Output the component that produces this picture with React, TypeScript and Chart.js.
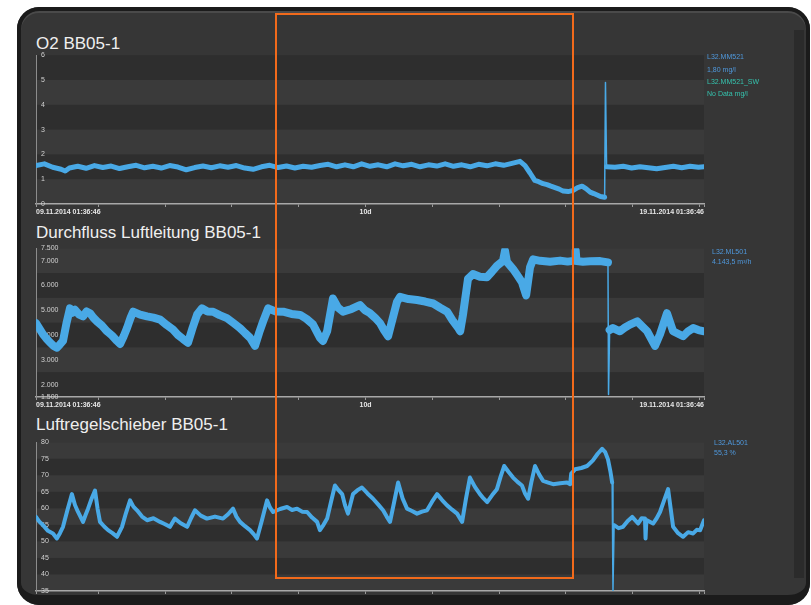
import React, { useEffect, useRef } from 'react';
import { Chart, registerables } from 'chart.js';

Chart.register(...registerables);

const FONT = '"Liberation Sans", Arial, Helvetica, sans-serif';
const LINE_COLOR = '#49a9e6';

// x axis: hours since 09.11.2014 01:36:46 (10 days)
const xTickHours = [0, 22.4, 46.4, 70.4, 94.4, 118.4, 142.4, 166.4, 190.4, 214.4, 238.4, 240];
const xStartLabel = '09.11.2014 01:36:46';
const xEndLabel = '19.11.2014 01:36:46';
const xSpanLabel = '10d';
const xSpanTick = 118.4;

// y ticks
const o2Ticks = [0, 1, 2, 3, 4, 5, 6];
const flowTicks = [1500, 2000, 3000, 4000, 5000, 6000, 7000, 7500];
const valveTicks = [35, 40, 45, 50, 55, 60, 65, 70, 75, 80];

// lighter background stripes (value ranges)
const o2Bands: [number, number][] = [[0, 1], [2, 3], [4, 5]];
const flowBands: [number, number][] = [[2500, 3500], [4500, 5500], [6500, 7500]];
const valveBands: [number, number][] = [[35, 40], [45, 50], [55, 60], [65, 70], [75, 80]];

// titles and live values
const titles = ['O2 BB05-1', 'Durchfluss Luftleitung BB05-1', 'Luftregelschieber BB05-1'];
const o2Legend = ['L32.MM521', '1,80 mg/l', 'L32.MM521_SW', 'No Data mg/l'];
const flowLegend = ['L32.ML501', '4.143,5 m³/h'];
const valveLegend = ['L32.AL501', '55,3 %'];

// [hour, mg/l]
const o2Readings: [number, number][] = [
  [0, 1.55], [3, 1.62], [6, 1.48], [9, 1.4], [10.5, 1.33], [12, 1.45], [15, 1.52], [18, 1.44], [21, 1.55],
  [24, 1.47], [27, 1.53], [30, 1.43], [33, 1.5], [36, 1.56], [39, 1.46], [42, 1.52], [45, 1.45], [48, 1.55],
  [51, 1.49], [54, 1.38], [57, 1.47], [60, 1.53], [63, 1.46], [66, 1.54], [69, 1.48], [72, 1.55], [75, 1.45],
  [78, 1.4], [81, 1.5], [84, 1.56], [87, 1.47], [90, 1.53], [93, 1.45], [96, 1.52], [99, 1.48], [102, 1.55],
  [105, 1.6], [108, 1.5], [111, 1.58], [114, 1.5], [117, 1.62], [120, 1.52], [123, 1.58], [126, 1.5],
  [129, 1.62], [132, 1.54], [135, 1.6], [138, 1.5], [141, 1.58], [144, 1.53], [147, 1.62], [150, 1.52],
  [153, 1.58], [156, 1.5], [159, 1.6], [162, 1.54], [165, 1.62], [168, 1.56], [171, 1.64], [173.9, 1.72],
  [175.7, 1.55], [177.5, 1.25], [179.2, 0.95], [180.6, 0.9], [182.2, 0.82], [183.6, 0.78], [185, 0.72],
  [186.5, 0.66], [188, 0.6], [189.4, 0.52], [191.2, 0.5], [193, 0.55], [194.6, 0.66], [196.2, 0.72],
  [197.6, 0.62], [199.1, 0.48], [200.4, 0.42], [201.6, 0.36], [202.8, 0.3], [204.3, 0.27], [204.6, 4.9],
  [205, 1.5], [208, 1.48], [211, 1.52], [214, 1.45], [217, 1.5], [220, 1.46], [223, 1.42], [226, 1.47],
  [229, 1.52], [232, 1.46], [235, 1.52], [238, 1.48], [240, 1.5],
];

// [hour, m³/h]
const flowReadings: [number, number][] = [
  [0, 4480], [1.3, 4250], [2.5, 4030], [3.8, 3850], [5, 3700], [6.3, 3560], [7.5, 3490], [8.6, 3620],
  [9.7, 3760], [11, 4500], [12.2, 5075], [13.1, 4900], [14, 5020], [15.5, 4820], [16.9, 4750], [18.2, 4950],
  [19.4, 4880], [20.6, 4700], [21.9, 4550], [23.7, 4380], [25.5, 4150], [27.3, 3980], [29.1, 3760],
  [30.2, 3640], [31.5, 3950], [32.7, 4280], [34, 4700], [34.9, 4940], [37.4, 4820], [39.9, 4750],
  [42.2, 4700], [44.6, 4620], [47, 4400], [49.2, 4220], [51, 4000], [52.8, 3840], [54.6, 3690],
  [56.3, 4300], [57.9, 4825], [59.6, 5075], [61.6, 4950], [63.6, 4940], [66, 4800], [68.6, 4680],
  [71, 4480], [73.3, 4280], [75.1, 4080], [76.9, 3890], [78.7, 3560], [80.2, 4100], [81.6, 4550],
  [83.4, 5075], [86, 4950], [88.8, 4940], [91.8, 4850], [94.9, 4810], [97.2, 4650], [99.5, 4430],
  [102, 3890], [103.1, 3760], [104.6, 4150], [106.7, 5470], [108.5, 5100], [110.3, 4940], [113.4, 5050],
  [116.4, 5210], [118.2, 5000], [120, 4880], [121.8, 4700], [123.6, 4480], [125, 4200], [126.5, 3950],
  [128, 4600], [129.7, 5340], [130.8, 5540], [133.8, 5450], [136.9, 5410], [139.8, 5350], [142.7, 5270],
  [145.2, 5100], [147.7, 4940], [149.6, 4600], [151.6, 4300], [152.4, 4150], [153.4, 4810], [155.2, 6260],
  [157, 6460], [159.5, 6350], [162, 6330], [163.8, 6550], [165.6, 6790], [167.8, 6990], [168.5, 7400],
  [169.2, 6950], [171.4, 6660], [173, 6400], [174.6, 6130], [176.1, 5600], [177.5, 6730], [178.6, 7050],
  [181.1, 6990], [184.7, 6950], [188.3, 7000], [191, 6960], [193.7, 7000], [193.9, 7400], [194.2, 6980],
  [196.5, 6950], [199.1, 6970], [202.7, 6980], [205.5, 6930], [205.7, 1600], [206.1, 4200], [207.3, 4280],
  [209.8, 4150], [211.6, 4300], [213.4, 4420], [216, 4550], [217.8, 4350], [219.6, 4150], [221, 3850],
  [222.4, 3560], [224.2, 4030], [226.7, 4880], [228.9, 4150], [230.7, 4050], [232.5, 3950], [234.3, 4150],
  [236.1, 4280], [238, 4200], [240, 4150],
];

// [hour, %]
const valveReadings: [number, number][] = [
  [0, 57.4], [1.2, 56], [2.5, 54.9], [4.3, 53.2], [6.1, 52.4], [7.5, 50.9], [8.6, 52.5], [9.7, 54.4],
  [11.3, 59.5], [12.9, 64.3], [14, 61], [15.1, 58.9], [16.9, 55.9], [17.8, 58], [18.7, 59.9], [20, 63],
  [21.2, 65.4], [22.1, 60], [23, 55.9], [24.5, 54.5], [25.9, 53.4], [27.5, 52.5], [29.1, 51.4], [30.9, 54.4],
  [32.3, 58.5], [33.8, 62.4], [35, 60.5], [36.3, 59.4], [38.1, 57.5], [39.9, 56.4], [42.2, 57], [44.6, 55.9],
  [46.4, 55.2], [48.1, 54.4], [49.9, 56.9], [52, 55.5], [54.3, 54.4], [55.7, 57], [57.1, 59.4], [59.2, 57.8],
  [61.4, 56.9], [64.3, 57.5], [67.2, 56.9], [69, 58.2], [70.8, 59.9], [72, 57.5], [73.3, 55.9], [75.1, 54.6],
  [76.9, 53.4], [78.2, 52.2], [79.4, 50.9], [81.2, 56.5], [83, 62.4], [84.1, 60.2], [85.2, 58.9], [87.7, 59.8],
  [90.2, 60.4], [92, 59.5], [93.8, 59.9], [95.6, 59], [97.4, 58.9], [99.2, 57.2], [101, 55.9], [102, 53.4],
  [103.3, 55], [104.6, 56.9], [106, 62], [107.4, 66.9], [108.7, 65.5], [110, 64.3], [111, 61], [112.1, 58.4],
  [113.9, 64.3], [115.5, 65.5], [117.1, 66.3], [119.1, 64.5], [121.1, 62.9], [122.9, 61.2], [124.7, 59.4],
  [126, 57.5], [127.2, 55.9], [128.7, 62], [130.1, 67.8], [131.7, 63], [133.3, 59.9], [135.1, 59.2],
  [136.9, 58.4], [138.7, 59], [140.5, 59.4], [142.3, 62], [144.1, 64.3], [145.9, 62.5], [147.7, 60.9],
  [149.5, 59.6], [151.3, 58.4], [153.1, 55.9], [154.5, 63], [155.9, 69.3], [157.7, 66.5], [159.5, 64.3],
  [160.8, 63], [162.1, 61.9], [163.9, 64], [165.6, 65.8], [166.9, 69.5], [168.2, 72.8], [169.8, 71],
  [171.4, 69.3], [173, 68], [174.6, 66.9], [175.7, 64.5], [176.8, 62.9], [178, 68], [179.3, 72.8],
  [180.8, 70.2], [182.2, 68.3], [184, 67.8], [185.8, 67.3], [188.3, 67.6], [190.8, 67.8], [191.9, 67.3],
  [192.3, 70.5], [193.7, 71.8], [195.9, 72.2], [198, 72.8], [200.1, 74.5], [201.8, 76.5], [203.4, 78],
  [204.5, 77], [205.5, 74.8], [206.4, 71], [207, 67.8], [207.3, 35], [207.7, 54.9], [209.3, 54],
  [210.9, 54.4], [212.6, 56.2], [214.2, 57.4], [216.3, 55.4], [217.6, 57], [218.8, 56.9], [219, 50.9],
  [219.3, 56.5], [221.7, 55.4], [223, 57], [224.2, 58.9], [225.7, 62.5], [227.1, 65.8], [228.9, 54.4],
  [230.7, 52.5], [232.5, 51.4], [234.3, 52.8], [236.1, 52.4], [237.4, 53.5], [238.6, 53.4], [240, 56.4],
];

const thousands = (v: number) => String(v).replace(/\B(?=(\d{3})+(?!\d))/g, '.');

const bandPlugin = {
  id: 'bands',
  beforeDraw(chart: any, _args: any, opts: any) {
    const { ctx, chartArea: a, scales } = chart;
    const y = scales.y;
    ctx.save();
    ctx.fillStyle = opts.base;
    ctx.fillRect(a.left, a.top, a.right - a.left, a.bottom - a.top);
    ctx.fillStyle = opts.light;
    for (const [lo, hi] of opts.ranges as [number, number][]) {
      const y1 = y.getPixelForValue(hi);
      const y2 = y.getPixelForValue(lo);
      ctx.fillRect(a.left, y1, a.right - a.left, y2 - y1);
    }
    ctx.restore();
  },
};

type ChartProps = {
  top: number;
  readings: [number, number][];
  yTicks: number[];
  bands: [number, number][];
  lineWidth: number;
  jump: number;
  fmt: (v: number) => string;
};

function TrendChart({ top, readings, yTicks, bands, lineWidth, jump, fmt }: ChartProps) {
  const ref = useRef<HTMLCanvasElement>(null);
  useEffect(() => {
    const chart = new Chart(ref.current as HTMLCanvasElement, {
      type: 'line',
      data: {
        datasets: [
          {
            data: readings.map(([x, y]) => ({ x, y })),
            borderColor: LINE_COLOR,
            borderWidth: lineWidth,
            pointRadius: 0,
            tension: 0,
            borderJoinStyle: 'round',
            borderCapStyle: 'round',
            segment: {
              borderWidth: (c: any) => (Math.abs(c.p1.parsed.y - c.p0.parsed.y) > jump ? 1.5 : undefined),
            },
          } as any,
        ],
      },
      options: {
        responsive: false,
        animation: false,
        events: [],
        layout: { padding: { left: 36, right: 107, top: 6, bottom: 0 } },
        plugins: {
          legend: { display: false },
          tooltip: { enabled: false },
          bands: { ranges: bands, base: '#2e2e2e', light: '#3a3a3a' },
        } as any,
        scales: {
          x: {
            type: 'linear',
            min: 0,
            max: 240,
            afterBuildTicks: (s: any) => {
              s.ticks = xTickHours.map((value) => ({ value }));
            },
            afterFit: (s: any) => {
              s.height = 20;
            },
            grid: { display: true, drawOnChartArea: false, drawTicks: true, tickLength: 3, color: '#9a9a9a', lineWidth: 1 },
            border: { display: true, color: '#a8a8a8', width: 1.5 },
            ticks: {
              autoSkip: false,
              maxRotation: 0,
              minRotation: 0,
              align: 'inner',
              padding: 1,
              color: '#e6e6e6',
              font: { size: 7, family: FONT, weight: 'bold' },
              callback: (v: any) => {
                const n = Number(v);
                if (n === 0) return xStartLabel;
                if (n === 240) return xEndLabel;
                if (Math.abs(n - xSpanTick) < 0.01) return xSpanLabel;
                return '';
              },
            },
          } as any,
          y: {
            type: 'linear',
            min: yTicks[0],
            max: yTicks[yTicks.length - 1],
            afterBuildTicks: (s: any) => {
              s.ticks = yTicks.map((value) => ({ value }));
            },
            afterFit: (s: any) => {
              s.width = 0;
            },
            grid: { display: false, drawTicks: false },
            border: { display: true, color: '#8c8c8c', width: 1 },
            ticks: {
              mirror: true,
              padding: 5,
              color: '#d2d2d2',
              font: { size: 7, family: FONT },
              callback: (v: any) => fmt(Number(v)),
            },
          } as any,
        },
      },
      plugins: [bandPlugin],
    });
    return () => chart.destroy();
  }, []);
  return (
    <canvas
      ref={ref}
      width={811}
      height={178}
      style={{ position: 'absolute', left: 0, top, width: 811, height: 178 }}
    />
  );
}

const titleStyle = (top: number): React.CSSProperties => ({
  position: 'absolute',
  left: 36,
  top,
  fontFamily: FONT,
  fontSize: 17,
  lineHeight: '17px',
  color: '#efefef',
  whiteSpace: 'nowrap',
});

function Legend({ left, top, lines, colors, lh }: { left: number; top: number; lines: string[]; colors: string[]; lh: number }) {
  return (
    <div style={{ position: 'absolute', left, top, fontFamily: FONT, fontSize: 7, lineHeight: `${lh}px`, whiteSpace: 'nowrap' }}>
      {lines.map((t, i) => (
        <div key={i} style={{ color: colors[i] }}>
          {t}
        </div>
      ))}
    </div>
  );
}

export default function App() {
  const blue = '#4f98dc';
  const teal = '#35c2ad';
  return (
    <div style={{ position: 'fixed', left: 0, top: 0, width: 811, height: 605, overflow: 'hidden', background: '#ffffff' }}>
      <div
        style={{
          position: 'absolute',
          left: 17,
          top: 7,
          width: 793,
          height: 598,
          borderRadius: 22,
          background: '#363636',
        }}
      />

      <div style={titleStyle(34.6)}>{titles[0]}</div>
      <div style={titleStyle(223.6)}>{titles[1]}</div>
      <div style={titleStyle(415.6)}>{titles[2]}</div>

      <TrendChart top={46} readings={o2Readings} yTicks={o2Ticks} bands={o2Bands} lineWidth={5} jump={1} fmt={(v) => String(v)} />
      <TrendChart top={239} readings={flowReadings} yTicks={flowTicks} bands={flowBands} lineWidth={8} jump={2000} fmt={thousands} />
      <TrendChart top={433} readings={valveReadings} yTicks={valveTicks} bands={valveBands} lineWidth={4} jump={15} fmt={(v) => String(v)} />

      <Legend left={707} top={51.3} lines={o2Legend} colors={[blue, blue, teal, teal]} lh={12.2} />
      <Legend left={712} top={246.5} lines={flowLegend} colors={[blue, blue]} lh={10.5} />
      <Legend left={714} top={437.5} lines={valveLegend} colors={[blue, blue]} lh={10.5} />

      <div style={{ position: 'absolute', left: 794, top: 30, width: 10, height: 548, background: '#2b2b2b' }} />
      <div
        style={{
          position: 'absolute',
          left: 17,
          top: 7,
          width: 793,
          height: 598,
          boxSizing: 'border-box',
          borderRadius: 22,
          borderStyle: 'solid',
          borderColor: '#1b1b1b',
          borderWidth: '4px 4px 10px 4px',
          boxShadow: 'inset 0 2px 0 #4a4a4a',
        }}
      />

      <div
        style={{
          position: 'absolute',
          left: 274.7,
          top: 12.7,
          width: 298.9,
          height: 566.3,
          boxSizing: 'border-box',
          border: '2.6px solid #f26a1b',
        }}
      />
    </div>
  );
}
